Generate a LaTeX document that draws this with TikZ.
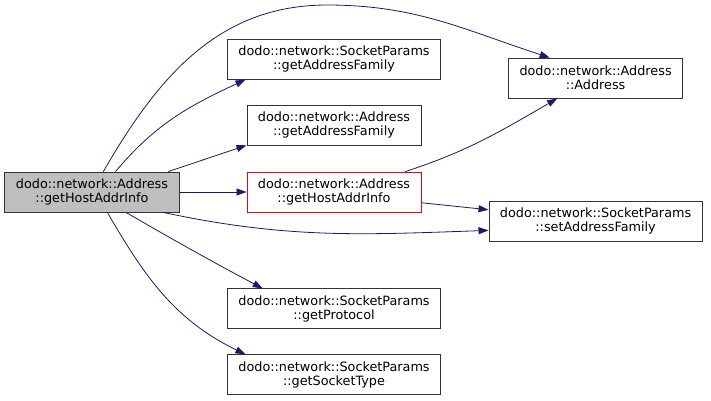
\documentclass[tikz,border=0pt]{standalone}
\usepackage{fontspec}
\setmainfont{DejaVu Sans}
\usetikzlibrary{positioning,arrows.meta}

\definecolor{edgeblue}{HTML}{191970}

\begin{document}
\begin{tikzpicture}[
  x=1pt,y=-1pt,
  font=\fontsize{12.8}{14}\selectfont,
  fnbox/.style={rectangle,draw=black!80,line width=0.9pt,fill=white,
                minimum height=40pt,inner xsep=11pt,inner ysep=3pt,align=center},
  root/.style={fnbox,fill=black!25},
  hot/.style={fnbox,draw=red},
  call/.style={-{Triangle[length=10pt,width=7pt]},edgeblue,line width=0.8pt},
]
\useasboundingbox (0,0) rectangle (711,400);

% ===== caller =====
\node[root] (main) at (92,192) {dodo::network::Address\\::getHostAddrInfo};

% ===== middle column =====
\node[hot,right=67pt of main] (host) {dodo::network::Address\\::getHostAddrInfo};
\node[fnbox,above=26pt of host] (gaf2) {dodo::network::Address\\::getAddressFamily};
\node[fnbox,above=25pt of gaf2] (gaf1) {dodo::network::SocketParams\\::getAddressFamily};
\node[fnbox,below=76pt of host] (gp) {dodo::network::SocketParams\\::getProtocol};
\node[fnbox,below=25pt of gp] (gst) {dodo::network::SocketParams\\::getSocketType};

% ===== right column =====
\node[fnbox,right=67pt of host,yshift=-29pt] (saf) {dodo::network::SocketParams\\::setAddressFamily};
\node[fnbox,above=102pt of saf] (addr) {dodo::network::Address\\::Address};

\coordinate (arc) at (327,5);

% calls
\draw[call] (main.61) to[out=60,in=180] (arc) to[out=0,in=162] (addr.156);
\draw[call] (main.41) to[out=50,in=205] (gaf1.193);
\draw[call] (main.15) -- (gaf2.193);
\draw[call] (main.east) -- (host.west);
\draw[call] (main.-16) to[out=-12,in=182] (saf.185);
\draw[call] (main.-31) to[out=-30,in=152] (gp.164);
\draw[call] (main.-53) to[out=-60,in=154] (gst.167);
\draw[call] (host.16) to[out=18,in=210] (addr.208);
\draw[call] (host.-7) -- (saf.174);
\end{tikzpicture}
\end{document}
